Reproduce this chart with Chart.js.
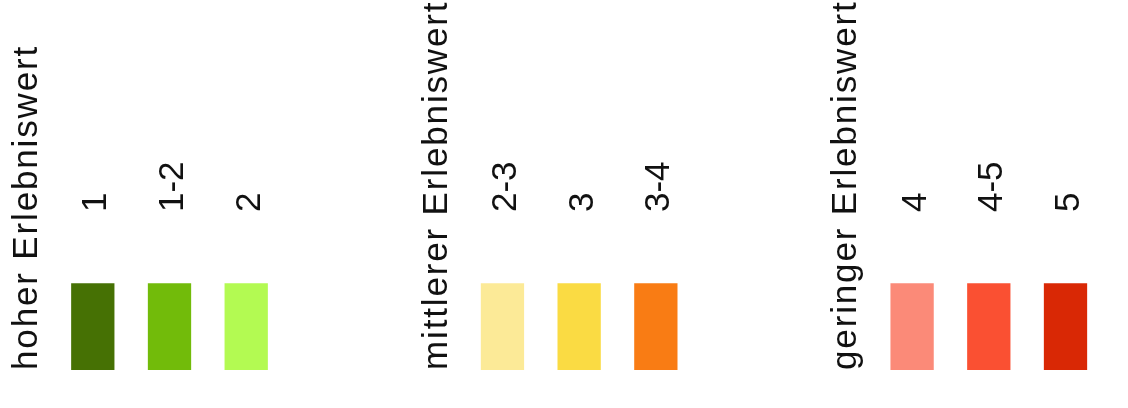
<!DOCTYPE html>
<html>
<head>
<meta charset="utf-8">
<script src="https://cdn.jsdelivr.net/npm/chart.js@4/dist/chart.umd.min.js"></script>
<style>
  html, body { margin: 0; padding: 0; background: #fff; }
  #wrap { width: 1128px; height: 408px; }
</style>
</head>
<body>
<div id="wrap"><canvas id="legend-chart"></canvas></div>
<script>
// Groups (categories on the x axis)
const groupLabels = ['hoher Erlebniswert', 'mittlerer Erlebniswert', 'geringer Erlebniswert'];

// Class labels per group, three classes each
const classLabels = [
  ['1', '1-2', '2'],
  ['2-3', '3', '3-4'],
  ['4', '4-5', '5']
];

// Colours per group
const classColors = [
  ['#467104', '#72bb0a', '#b3fa52'],
  ['#fcea97', '#fadb43', '#f97c14'],
  ['#fb8a78', '#fa5032', '#d92805']
];

// Every swatch has the same height
const swatchValues = [1, 1, 1];

const FONT = '"Liberation Sans", Arial, sans-serif';

// Draw rotated headings and class labels next to the swatches
const labelPlugin = {
  id: 'rotatedLabels',
  afterDatasetsDraw(chart) {
    const ctx = chart.ctx;
    ctx.save();
    ctx.fillStyle = '#111';
    ctx.textAlign = 'left';
    ctx.textBaseline = 'alphabetic';

    chart.data.datasets.forEach((ds, j) => {
      const meta = chart.getDatasetMeta(j);
      meta.data.forEach((bar, i) => {
        // class label above each swatch
        ctx.font = '35px ' + FONT;
        ctx.letterSpacing = '0px';
        ctx.save();
        ctx.translate(bar.x + 13.5, 212);
        ctx.rotate(-Math.PI / 2);
        ctx.fillText(classLabels[i][j], 0, 0);
        ctx.restore();

        // group heading to the left of the first swatch
        if (j === 0) {
          ctx.font = '35px ' + FONT;
          ctx.letterSpacing = '1.85px';
          ctx.save();
          ctx.translate(bar.x - bar.width / 2 - 34, 370);
          ctx.rotate(-Math.PI / 2);
          ctx.fillText(groupLabels[i], 0, 0);
          ctx.restore();
        }
      });
    });
    ctx.restore();
  }
};

const datasets = [0, 1, 2].map(j => ({
  label: 'Klasse ' + (j + 1),
  data: swatchValues,
  backgroundColor: classColors.map(row => row[j]),
  borderWidth: 0,
  categoryPercentage: 0.5617,
  barPercentage: 0.5645,
  clip: false
}));

new Chart(document.getElementById('legend-chart'), {
  type: 'bar',
  data: { labels: groupLabels, datasets: datasets },
  options: {
    responsive: true,
    maintainAspectRatio: false,
    animation: false,
    layout: { padding: { left: 169.5, right: 139.2, top: 283.3, bottom: 38 } },
    plugins: {
      legend: { display: false },
      tooltip: { enabled: false }
    },
    scales: {
      x: { display: false, offset: false },
      y: { display: false, min: 0, max: 1 }
    }
  },
  plugins: [labelPlugin]
});
</script>
</body>
</html>
